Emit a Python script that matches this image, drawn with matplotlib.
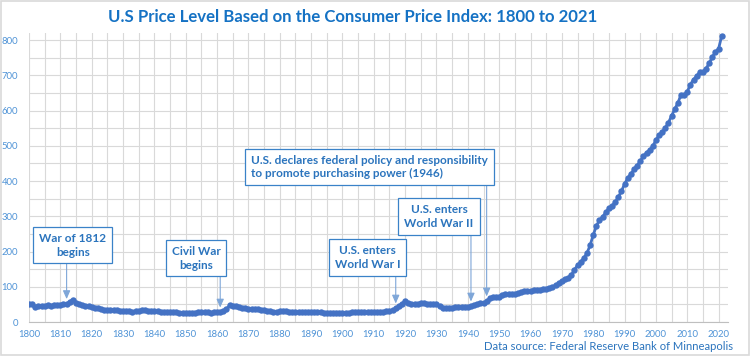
import numpy as np
import matplotlib
matplotlib.use("Agg")
import matplotlib.pyplot as plt
from matplotlib.patches import Rectangle
from matplotlib.ticker import MultipleLocator

years = np.arange(1800, 2022)
cpi = [
    51, 50, 43, 45, 45, 45, 47, 44, 48, 47,            # 1800s
    47, 50, 51, 58, 63, 55, 51, 48, 46, 46,            # 1810s
    42, 40, 40, 36, 33, 34, 34, 34, 33, 32,            # 1820s
    32, 30, 30, 29, 30, 31, 33, 34, 32, 32,            # 1830s
    30, 31, 29, 28, 28, 28, 27, 28, 26, 26,            # 1840s
    25, 25, 25, 25, 27, 28, 27, 28, 26, 27,            # 1850s
    27, 27, 30, 37, 47, 46, 44, 42, 40, 40,            # 1860s
    38, 36, 36, 36, 34, 33, 32, 32, 29, 29,            # 1870s
    30, 30, 30, 29, 29, 28, 28, 28, 28, 28,            # 1880s
    27, 27, 27, 27, 26, 25, 25, 25, 25, 25,            # 1890s
    25, 25, 26, 27, 27, 27, 28, 29, 28, 27,            # 1900s
    28, 28, 29, 29.7, 30.1, 30.4, 32.7, 38.4, 45.1, 51.8,  # 1910s
    60.0, 53.6, 50.2, 51.1, 51.2, 52.5, 53.0, 52.0, 51.3, 51.3,  # 1920s
    50.0, 45.6, 40.9, 38.8, 40.1, 41.1, 41.5, 43.0, 42.2, 41.6,  # 1930s
    42.0, 44.1, 48.8, 51.8, 52.7, 53.9, 58.5, 66.9, 72.1, 71.4,  # 1940s
    72.1, 77.8, 79.5, 80.1, 80.5, 80.2, 81.4, 84.3, 86.6, 87.3,  # 1950s
    88.7, 89.6, 90.6, 91.7, 92.9, 94.5, 97.2, 100.0, 104.2, 109.8,  # 1960s
    116.3, 121.3, 125.3, 133.1, 147.7, 161.2, 170.5, 181.5, 195.4, 217.4,  # 1970s
    246.8, 272.4, 289.1, 298.4, 311.1, 322.2, 328.4, 340.4, 354.3, 371.3,  # 1980s
    391.4, 408.0, 420.3, 432.7, 444.0, 456.5, 469.9, 480.8, 488.3, 499.0,  # 1990s
    515.8, 530.4, 538.8, 551.1, 565.8, 585.0, 603.9, 621.1, 644.9, 642.7,  # 2000s
    653.2, 673.8, 687.8, 697.8, 709.1, 710.0, 719.0, 734.3, 752.2, 765.9,  # 2010s
    775.6, 812.1,                                      # 2020s
]
cpi = np.array(cpi, dtype=float)

# annotations: label, year pointed at, box centre (year, value), box bottom value
notes = [
    ("War of 1812\nbegins", 1812, (1814, 218), 167, "center"),
    ("Civil War\nbegins", 1861, (1853.3, 181), 133, "center"),
    ("U.S. enters\nWorld War I", 1917, (1908, 183), 133, "center"),
    ("U.S. enters\nWorld War II", 1941, (1930.8, 299), 250, "center"),
    ("U.S. declares federal policy and responsibility\nto promote purchasing power (1946)",
     1946, (1908.6, 440), 389, "left"),
]

title_color = "#1572c4"
text_color = "#2b74bd"
tick_color = "#4f93d6"
line_color = "#4472C4"
grid_color = "#d9d9d9"

plt.rcParams["font.family"] = ["Lato", "DejaVu Sans"]

fig = plt.figure(figsize=(7.5, 3.56), dpi=100)
ax = fig.add_axes([29 / 750, 1 - 322 / 356, 699 / 750, 289 / 356])

ax.plot(years, cpi, color=line_color, lw=2.0, marker="o", ms=4.6,
        markeredgewidth=0, zorder=3)

ax.set_xlim(1800, 2023)
ax.set_ylim(0, 820)
ax.xaxis.set_major_locator(MultipleLocator(10))
ax.xaxis.set_minor_locator(MultipleLocator(5))
ax.yaxis.set_major_locator(MultipleLocator(100))
ax.yaxis.set_minor_locator(MultipleLocator(50))
ax.grid(which="both", color=grid_color, lw=0.8, zorder=0)
ax.set_axisbelow(True)

for s in ["top", "right", "left"]:
    ax.spines[s].set_visible(False)
ax.spines["bottom"].set_color("#bfbfbf")
ax.tick_params(which="both", length=0, labelsize=6.8, labelcolor=tick_color)
ax.tick_params(axis="x", pad=6)
ax.tick_params(axis="y", pad=8)

for label, yr, (bx, by), bottom, align in notes:
    tip = cpi[years == yr][0] + 14
    ax.annotate("", xy=(yr, tip), xytext=(yr, bottom),
                arrowprops=dict(arrowstyle="-|>,head_length=0.5,head_width=0.22",
                                color="#7ea6d8", lw=0.8, shrinkA=0, shrinkB=0),
                zorder=4)
    ax.text(bx, by, label, ha="center", va="center", multialignment=align,
            fontsize=8.5, fontweight="bold", color=text_color, linespacing=1.3,
            bbox=dict(boxstyle="square,pad=0.5", fc="white", ec="#3a82c8", lw=0.9),
            zorder=5)

fig.text(353 / 750, 1 - 17 / 356, "U.S Price Level Based on the Consumer Price Index: 1800 to 2021",
         ha="center", va="center", fontsize=12.1, fontweight="bold", color=title_color)
fig.text(733 / 750, 1 - 346 / 356, "Data source: Federal Reserve Bank of Minneapolis",
         ha="right", va="center", fontsize=8.1, color=text_color)

fig.patches.append(Rectangle((0.001, 0.002), 0.997, 0.995, transform=fig.transFigure,
                             fill=False, ec="#d9d9d9", lw=1.2))

fig.savefig("out.png", dpi=100)
